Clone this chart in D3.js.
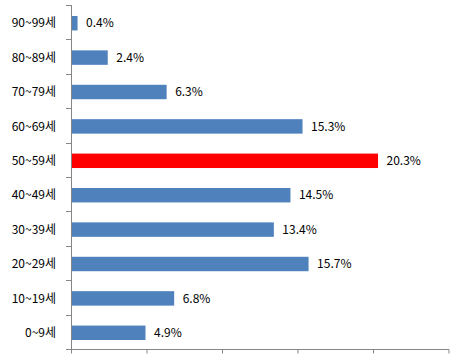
<!DOCTYPE html>
<html><head><meta charset="utf-8">
<script src="https://cdn.jsdelivr.net/npm/d3@7"></script>
<style>body{margin:0;background:#fff}</style>
</head><body>
<svg id="c" width="473" height="360"></svg>
<script>
const categories = ["90~99세","80~89세","70~79세","60~69세","50~59세","40~49세","30~39세","20~29세","10~19세","0~9세"];
const values = [0.4,2.4,6.3,15.3,20.3,14.5,13.4,15.7,6.8,4.9];
const highlight = "50~59세";
const xTicks = [0,5,10,15,20,25];

(function(){
const svg = d3.select("#c");
const left = 71, right = 448.5, topY = 5, bottomY = 349;
const x = d3.scaleLinear().domain([0,25]).range([left,right]);
const y = d3.scaleBand().domain(categories).range([topY+1,bottomY+1]).paddingInner(0.58).paddingOuter(0.29);
const font = "'Noto Sans CJK KR', 'Noto Sans', sans-serif";

svg.selectAll("rect.bar").data(categories).join("rect")
  .attr("class","bar")
  .attr("x", x(0)+0.5)
  .attr("y", d=>y(d))
  .attr("width", (d,i)=>x(values[i])-x(0))
  .attr("height", y.bandwidth())
  .attr("fill", d=> d===highlight ? "#ff0000" : "#4f81bd");

svg.selectAll("text.val").data(categories).join("text")
  .attr("class","val")
  .attr("x",(d,i)=>x(values[i])+9)
  .attr("y", d=>y(d)+y.bandwidth()/2)
  .attr("dy","0.35em")
  .attr("font-family",font).attr("font-size",12).attr("fill","#000")
  .text((d,i)=>values[i].toFixed(1)+"%");

const gray = "#868686";
svg.append("line").attr("x1",left+0.5).attr("x2",left+0.5).attr("y1",topY).attr("y2",bottomY).attr("stroke",gray);
const step = (bottomY-topY)/categories.length;
const bounds = d3.range(categories.length+1).map(i=>topY+i*step);
svg.selectAll("line.yt").data(bounds).join("line")
  .attr("x1",left-5).attr("x2",left).attr("y1",d=>Math.round(d)+0.5).attr("y2",d=>Math.round(d)+0.5).attr("stroke",gray);
svg.selectAll("text.cat").data(categories).join("text")
  .attr("x",56).attr("y",d=>y(d)+y.bandwidth()/2).attr("dy","0.35em")
  .attr("text-anchor","end").attr("font-family",font).attr("font-size",12).attr("fill","#000")
  .text(d=>d);

const xa = svg.append("g").attr("transform",`translate(0,${bottomY+0.5})`)
  .call(d3.axisBottom(x).tickValues(xTicks).tickSize(4).tickFormat(""));
xa.select(".domain").attr("stroke",gray).attr("d",`M${left},0H${right+0.5}`);
xa.selectAll(".tick line").attr("stroke",gray);
})();
</script>
</body></html>
